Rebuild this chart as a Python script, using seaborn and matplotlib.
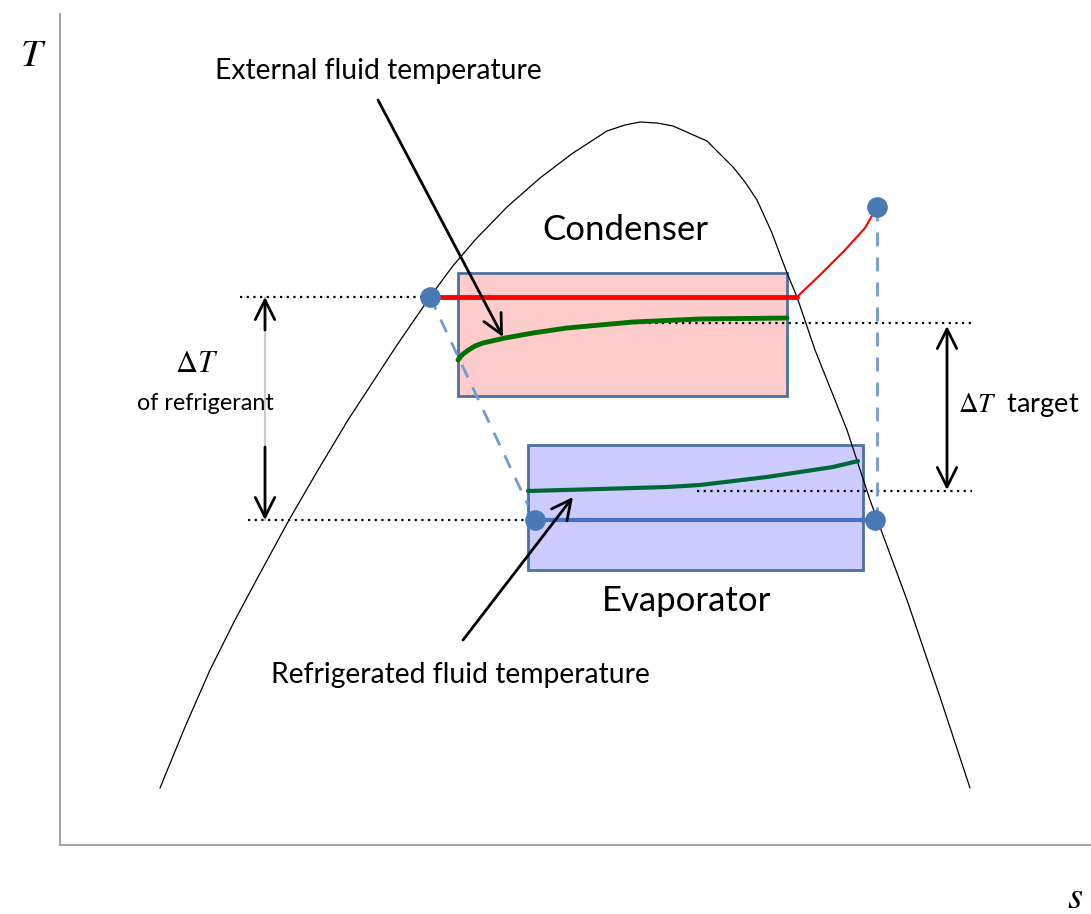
import numpy as np
import pandas as pd
import seaborn as sns
import matplotlib.pyplot as plt
from matplotlib.patches import Rectangle

# --- dados do diagrama T-s (coordenadas s, T) ---
dome_s = [100, 125, 150, 175, 198, 229, 258, 288, 337, 370, 392, 415, 447, 480, 513, 547, 565, 580,
          597, 613, 647, 673, 685, 697, 712, 727, 737, 755, 787, 810, 847, 880, 910]
dome_T = [57, 118, 175, 225, 268, 325, 375, 425, 500, 548, 578, 605, 638, 667, 692, 714, 720, 723,
          722, 719, 704, 678, 663, 645, 612, 572, 548, 495, 415, 345, 245, 148, 57]

cond_line_s = [370, 737]
cond_line_T = [548, 548]
superheat_s = [737, 760, 785, 805, 817]
superheat_T = [548, 570, 595, 617, 638]

ext_fluid_s = [398, 402, 407, 415, 423, 445, 473, 507, 573, 640, 727]
ext_fluid_T = [485, 490, 494, 499, 502, 507, 512, 517, 523, 526, 527]

evap_line_s = [475, 815]
evap_line_T = [325, 325]
refr_fluid_s = [468, 540, 607, 640, 707, 773, 798]
refr_fluid_T = [354, 356, 358, 360, 368, 378, 384]

points_s = [370, 475, 817, 815]
points_T = [548, 325, 638, 325]

cond_box = (398, 449, 329, 123)   # s, T, largura, altura
evap_box = (468, 275, 335, 125)

T_cond, T_evap = 548, 325
T_ext_out, T_refr_out = 522, 354

sns.set_style("white")
plt.rcParams['font.family'] = ['Lato', 'DejaVu Sans']
plt.rcParams['mathtext.fontset'] = 'stix'
plt.rcParams['text.color'] = 'black'

fig = plt.figure(figsize=(10.91, 9.14), dpi=100)
ax = fig.add_axes([60 / 1091, 69 / 914, 1031 / 1091, 831 / 914])
ax.set_xlim(0, 1031)
ax.set_ylim(0, 831)
ax.set_xticks([])
ax.set_yticks([])
for side in ['top', 'right']:
    ax.spines[side].set_visible(False)
for side in ['left', 'bottom']:
    ax.spines[side].set_color('#a6a6a6')
    ax.spines[side].set_linewidth(1.5)

# caixas do condensador e evaporador
ax.add_patch(Rectangle(cond_box[:2], cond_box[2], cond_box[3], facecolor='#ffcccc',
                       edgecolor='#4f6fa0', lw=2, zorder=1))
ax.add_patch(Rectangle(evap_box[:2], evap_box[2], evap_box[3], facecolor='#ccccff',
                       edgecolor='#4f6fa0', lw=2, zorder=1))

# curva de saturação
sns.lineplot(x=dome_s, y=dome_T, sort=False, estimator=None, color='black', lw=0.9, ax=ax, zorder=2)

# linhas pontilhadas de referência
dot = dict(ls=(0, (1, 2)), color='black', lw=1.6, zorder=2)
ax.plot([180, 370], [T_cond, T_cond], **dot)
ax.plot([188, 475], [T_evap, T_evap], **dot)
ax.plot([562, 915], [T_ext_out, T_ext_out], **dot)
ax.plot([637, 912], [T_refr_out, T_refr_out], **dot)

# linhas tracejadas (expansão e compressão)
ax.plot([points_s[0], evap_box[0]], [points_T[0], 340], ls=(0, (5, 4)), color='#6f9bd1', lw=2, zorder=2)
ax.plot([points_s[2], points_s[2]], [points_T[2], points_T[3]], ls=(0, (5, 4)), color='#6f9bd1', lw=2, zorder=2)

# refrigerante
sns.lineplot(x=cond_line_s, y=cond_line_T, color='red', lw=3.5, ax=ax, zorder=3)
sns.lineplot(x=superheat_s, y=superheat_T, sort=False, estimator=None, color='red', lw=1.5, ax=ax, zorder=3)
sns.lineplot(x=evap_line_s, y=evap_line_T, color='#4472c4', lw=3, ax=ax, zorder=3)

# fluidos externos
sns.lineplot(x=ext_fluid_s, y=ext_fluid_T, sort=False, estimator=None, color='#007000', lw=3.5, ax=ax, zorder=3)
sns.lineplot(x=refr_fluid_s, y=refr_fluid_T, sort=False, estimator=None, color='#006837', lw=3, ax=ax, zorder=3)

sns.scatterplot(x=points_s, y=points_T, color='#4a7ab5', s=190, edgecolor='#4a7ab5', ax=ax, zorder=4)

# setas de ΔT
ax.plot([205, 205], [T_cond, T_evap], color='#cccccc', lw=1.5, zorder=2)
arr = dict(arrowstyle='->', color='black', lw=2, mutation_scale=35, shrinkA=0, shrinkB=0)
ax.annotate('', xy=(205, T_cond), xytext=(205, 515), arrowprops=arr)
ax.annotate('', xy=(205, T_evap), xytext=(205, 398), arrowprops=arr)
ax.annotate('', xy=(887, 519), xytext=(887, 355),
            arrowprops=dict(arrowstyle='<->', color='black', lw=2, mutation_scale=35, shrinkA=0, shrinkB=0))

# setas de anotação
ax.annotate('', xy=(443, 508), xytext=(318, 745), arrowprops=arr)
ax.annotate('', xy=(513, 348), xytext=(403, 205), arrowprops=arr)

# textos
ax.text(318, 774, 'External fluid temperature', ha='center', va='center', fontsize=20.3)
ax.text(400, 170, 'Refrigerated fluid temperature', ha='center', va='center', fontsize=20.3)
ax.text(565, 615, 'Condenser', ha='center', va='center', fontsize=25)
ax.text(627, 244, 'Evaporator', ha='center', va='center', fontsize=25)
ax.text(137, 482, r'$\Delta T$', ha='center', va='center', fontsize=22)
ax.text(145, 441, 'of refrigerant', ha='center', va='center', fontsize=16.8)
ax.text(898, 440, r'$\Delta T$  target', ha='left', va='center', fontsize=19.5)
ax.text(-27, 790, r'$T$', ha='center', va='center', fontsize=28, clip_on=False)
ax.text(1015, -52, r'$s$', ha='center', va='center', fontsize=28, clip_on=False)

plt.savefig('out.png', dpi=100)
